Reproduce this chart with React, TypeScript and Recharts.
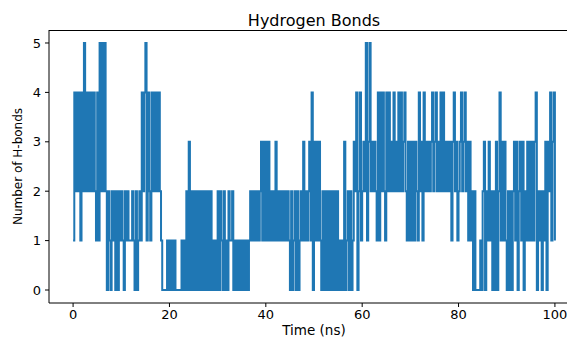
import React from 'react';
import { LineChart, Line, XAxis, YAxis } from 'recharts';

// sample spacing of the trajectory (ns)
const T_STEP = 0.25;

// number of H-bonds, one array per 10 ns
const hb00 = [1, 4, 2, 4, 2, 4, 1, 4, 2, 5, 2, 4, 2, 4, 2, 4, 2, 4, 2, 1, 4, 1, 5, 2, 5, 2, 5, 2, 0, 2, 1, 0, 2, 1, 2, 0, 2, 0, 2, 1];
const hb10 = [2, 1, 0, 2, 1, 2, 1, 1, 1, 2, 1, 0, 2, 0, 1, 2, 1, 4, 2, 4, 5, 1, 4, 2, 1, 4, 2, 4, 2, 4, 2, 4, 2, 1, 0, 0, 0, 0, 1, 0];
const hb20 = [1, 0, 1, 0, 1, 0, 0, 0, 0, 0, 1, 0, 1, 0, 2, 0, 3, 0, 2, 0, 2, 0, 2, 0, 2, 0, 2, 0, 2, 0, 2, 0, 2, 0, 2, 0, 1, 0, 1, 0];
const hb30 = [2, 0, 2, 1, 0, 2, 0, 1, 0, 2, 1, 1, 2, 0, 1, 0, 1, 0, 1, 0, 1, 0, 1, 0, 1, 0, 1, 2, 1, 2, 1, 2, 1, 2, 1, 2, 3, 1, 3, 1];
const hb40 = [3, 1, 3, 1, 2, 1, 2, 1, 3, 1, 2, 1, 2, 1, 2, 1, 2, 1, 2, 1, 0, 2, 0, 1, 2, 0, 2, 0, 1, 2, 1, 3, 1, 2, 1, 2, 3, 1, 4, 0];
const hb50 = [3, 1, 3, 1, 3, 1, 0, 2, 0, 2, 0, 2, 0, 2, 0, 2, 0, 2, 0, 2, 0, 1, 0, 1, 0, 3, 0, 1, 2, 0, 2, 0, 1, 3, 2, 4, 0, 2, 4, 1];
const hb60 = [2, 3, 2, 5, 1, 3, 5, 2, 3, 2, 3, 2, 1, 4, 1, 4, 2, 4, 2, 1, 4, 2, 4, 2, 3, 2, 4, 2, 3, 2, 4, 2, 4, 2, 3, 4, 2, 1, 3, 1];
const hb70 = [3, 1, 3, 1, 3, 2, 1, 4, 2, 3, 1, 4, 2, 3, 2, 3, 2, 3, 4, 2, 3, 4, 2, 3, 2, 4, 2, 4, 2, 3, 2, 3, 2, 3, 1, 3, 4, 2, 3, 1];
const hb80 = [2, 3, 4, 2, 3, 4, 2, 3, 1, 3, 1, 2, 0, 2, 0, 0, 0, 0, 1, 0, 2, 3, 0, 2, 1, 3, 1, 2, 0, 2, 0, 3, 0, 2, 4, 1, 3, 1, 3, 1];
const hb90 = [0, 2, 0, 2, 0, 2, 3, 1, 3, 0, 2, 3, 1, 3, 0, 2, 1, 3, 1, 3, 1, 3, 1, 3, 4, 0, 2, 1, 2, 0, 2, 1, 3, 0, 3, 2, 4, 1, 3, 4];
const hbEnd = [1];

const xTicks = [0, 20, 40, 60, 80, 100];
const yTicks = [0, 1, 2, 3, 4, 5];

const hbonds = [...hb00, ...hb10, ...hb20, ...hb30, ...hb40, ...hb50, ...hb60, ...hb70, ...hb80, ...hb90, ...hbEnd];
const data = hbonds.map((v, i) => ({ t: i * T_STEP, hb: v }));

const font = '"DejaVu Sans", sans-serif';
const tickStyle = { fontSize: 13, fill: '#000', fontFamily: font };

export default function App() {
  return (
    <div style={{ position: 'fixed', left: 0, top: 0, width: 567, height: 338, overflow: 'hidden', background: '#fff' }}>
      <div
        style={{
          position: 'absolute',
          top: 11,
          left: 0,
          width: 628,
          textAlign: 'center',
          fontFamily: font,
          fontSize: 16,
          color: '#000',
        }}
      >
        Hydrogen Bonds
      </div>
      {/* top spine */}
      <div style={{ position: 'absolute', top: 30, left: 49, width: 530, borderTop: '1px solid #000' }} />
      <LineChart width={590} height={345} data={data} margin={{ top: 30, right: 11, bottom: 0, left: 0 }}>
        <XAxis
          dataKey="t"
          type="number"
          domain={[-5, 105]}
          ticks={xTicks}
          allowDataOverflow
          height={42}
          tickSize={4}
          tickMargin={3}
          tick={tickStyle}
          stroke="#000"
          label={{ value: 'Time (ns)', position: 'insideBottom', offset: 10, style: { fontSize: 13.5, fill: '#000', fontFamily: font } }}
        />
        <YAxis
          type="number"
          domain={[-0.263, 5.263]}
          ticks={yTicks}
          allowDataOverflow
          width={49}
          tickSize={4}
          tickMargin={4}
          tick={tickStyle}
          stroke="#000"
          label={{
            value: 'Number of H-bonds',
            angle: -90,
            position: 'insideLeft',
            offset: 18,
            style: { fontSize: 12, fill: '#000', fontFamily: font, textAnchor: 'middle' },
          }}
        />
        <Line
          type="stepAfter"
          dataKey="hb"
          stroke="#1f77b4"
          strokeWidth={2}
          dot={false}
          isAnimationActive={false}
        />
      </LineChart>
    </div>
  );
}
